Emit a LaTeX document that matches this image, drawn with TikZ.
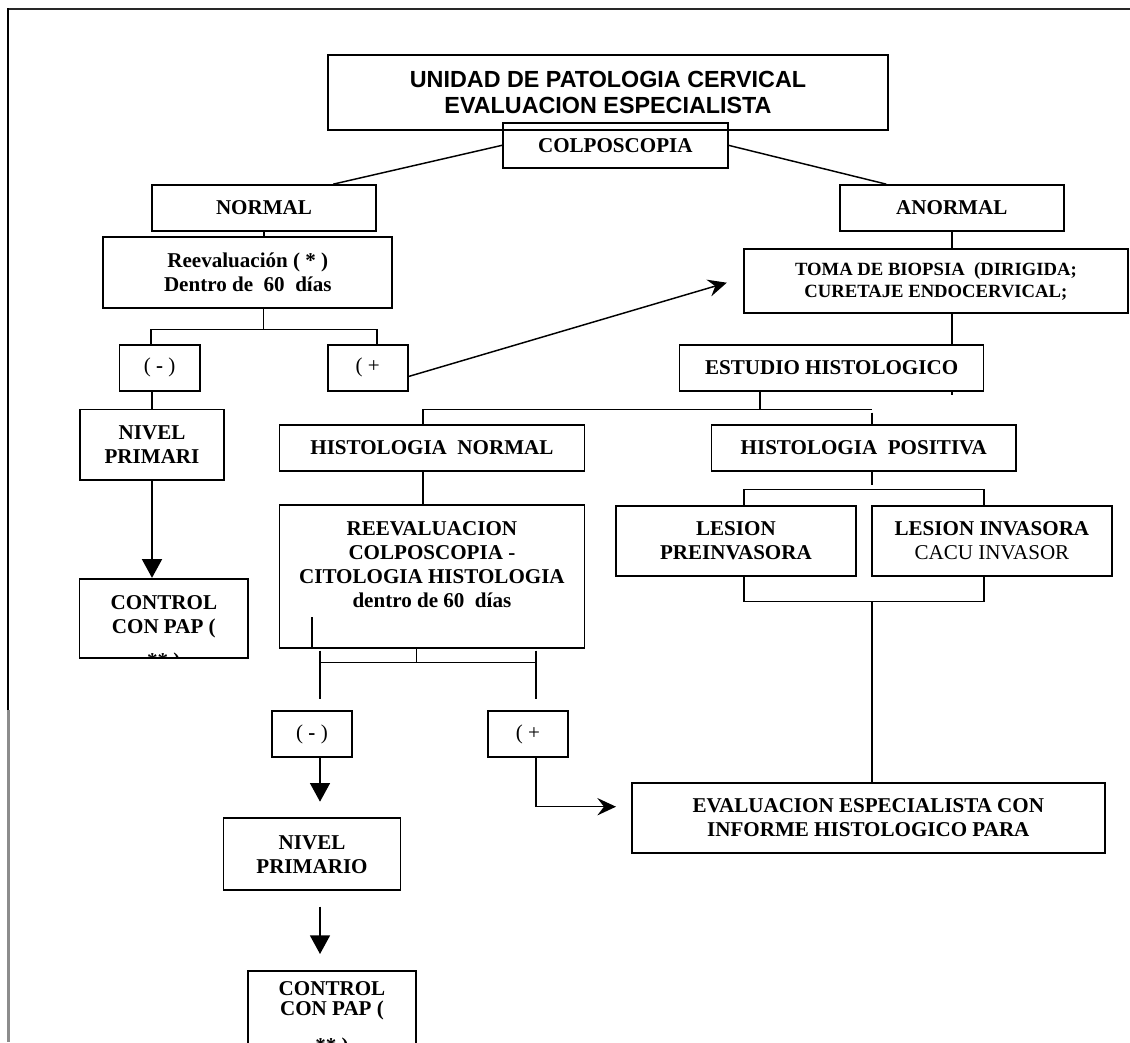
\documentclass[tikz,border=0pt]{standalone}
\usepackage{fontspec}
\setmainfont{Liberation Serif}
\newfontfamily\titlefont{Liberation Sans}
\usetikzlibrary{arrows.meta}

\tikzset{every picture/.style={line width=0.75pt}}
\tikzset{
  caja/.style={draw, line width=1.3pt, inner sep=0pt, align=center, font=\bfseries\fontsize{15.8}{18}\selectfont},
  linea/.style={line width=1.1pt},
  flecha/.style={line width=1.1pt, -{Stealth[length=14pt,width=13pt,inset=5pt]}},
  flechatri/.style={line width=1.1pt, -{Triangle[length=14pt,width=15pt]}}
}

\begin{document}
\begin{tikzpicture}[x=0.75pt,y=0.75pt,yscale=-1,xscale=1]
\useasboundingbox (0,0) rectangle (1130,1042);
\clip (0,0) rectangle (1130,1042);

%Shape: page frame
\draw [line width=2pt, color={rgb, 255:red, 40; green, 40; blue, 40 }] (7,9) -- (1130,9) ;
\draw [line width=1.6pt] (8,8) -- (8,712) ;
\draw [line width=1.6pt, color={rgb, 255:red, 140; green, 140; blue, 140 }] (8.5,710) -- (8.5,1042) ;

% Text Node
\node [caja, font=\titlefont\bfseries\fontsize{17.5}{19}\selectfont, minimum width=420pt, minimum height=56.25pt] (titulo) at (608,92.5) {UNIDAD DE PATOLOGIA CERVICAL\\EVALUACION ESPECIALISTA};
% Text Node
\node [caja, minimum width=168.5pt, minimum height=33.75pt] (colpo) at (615.3,145.3) {COLPOSCOPIA};
% Text Node
\node [caja, minimum width=168pt, minimum height=34.5pt] (normal) at (264,208) {NORMAL};
% Text Node
\node [caja, minimum width=168pt, minimum height=34.5pt] (anormal) at (951.8,208) {ANORMAL};
% Text Node
\node [caja, minimum width=216.75pt, minimum height=52.8pt] (reev) at (247.8,272.5) {Reevaluación ( * )\\Dentro de\ \ 60\ \ días};
% Text Node
\node [caja, font=\fontsize{15.8}{18}\selectfont, minimum width=60.5pt, minimum height=34.3pt] (menos1) at (159.7,367.8) {( \textbf{-} )};
% Text Node
\node [caja, font=\fontsize{15.8}{18}\selectfont, minimum width=60pt, minimum height=34.3pt] (mas1) at (367.7,367.8) {( +};
% Text Node
\node [caja, minimum width=108.5pt, minimum height=53pt] (nivel1) at (152,444.7) {NIVEL\\PRIMARI};
% Text Node
\node [caja, minimum width=126.3pt, minimum height=59.25pt,
  path picture={\node [anchor=north, inner sep=0pt, align=center, font=\bfseries\fontsize{15.8}{18}\selectfont] (control1txt) at (path picture bounding box.north) {\rule{0pt}{22.2pt}CONTROL\\CON PAP (\\[8pt]** )};}] (control1) at (163.8,618.2) {};
% Text Node
\node [caja, font=\bfseries\fontsize{14}{16.5}\selectfont, minimum width=288pt, minimum height=48pt] (toma) at (935.9,281.3) {TOMA DE BIOPSIA\ \ (DIRIGIDA;\\CURETAJE ENDOCERVICAL;};
% Text Node
\node [caja, minimum width=228pt, minimum height=34.3pt] (estudio) at (831.6,367.8) {ESTUDIO HISTOLOGICO};
% Text Node
\node [caja, minimum width=228.75pt, minimum height=34.3pt] (histnorm) at (431.9,447.8) {HISTOLOGIA\ \ NORMAL};
% Text Node
\node [caja, minimum width=228.4pt, minimum height=34.3pt] (histpos) at (863.8,447.8) {HISTOLOGIA\ \ POSITIVA};
% Text Node
\node [caja, minimum width=228.75pt, minimum height=107.25pt] (reev2) at (431.9,576.8) {REEVALUACION\\COLPOSCOPIA -\\CITOLOGIA HISTOLOGIA\\dentro de 60\ \ días\\ ~};
% Text Node
\node [caja, minimum width=180pt, minimum height=52.3pt] (lespre) at (735.9,540.8) {LESION\\PREINVASORA};
% Text Node
\node [caja, minimum width=180pt, minimum height=52.3pt] (lesinv) at (991.9,540.8) {LESION INVASORA\\{\mdseries CACU INVASOR}};
% Text Node
\node [caja, font=\fontsize{15.8}{18}\selectfont, minimum width=60pt, minimum height=35pt] (menos2) at (312,734) {( \textbf{-} )};
% Text Node
\node [caja, font=\fontsize{15.8}{18}\selectfont, minimum width=60pt, minimum height=35pt] (mas2) at (527.9,734) {( +};
% Text Node
\node [caja, minimum width=132.75pt, minimum height=53.8pt] (nivel2) at (312,854.2) {NIVEL\\PRIMARIO};
% Text Node
\node [caja, minimum width=126pt, minimum height=59.25pt,
  path picture={\node [anchor=north, inner sep=0pt, align=center, font=\bfseries\fontsize{15.8}{15.5}\selectfont] (control2txt) at (path picture bounding box.north) {\rule{0pt}{17.5pt}CONTROL\\CON PAP (\\[12pt]** )};}] (control2) at (332,1010.3) {};
% Text Node
\node [caja, minimum width=355pt, minimum height=53pt] (eval) at (868.3,818) {EVALUACION ESPECIALISTA CON\\INFORME HISTOLOGICO PARA};

% junctions
\coordinate (r1) at (263.7,329.3);
\coordinate (r2) at (759.8,409.3);
\coordinate (r2a) at (423,409.3);
\coordinate (r2b) at (872,409.3);
\coordinate (r3a) at (743.8,489.3);
\coordinate (r3b) at (984,489.3);
\coordinate (r4b) at (984,601.3);
\coordinate (r5) at (416.4,662.7);
\coordinate (r5a) at (320,662.7);
\coordinate (r5b) at (535.8,662.7);
\coordinate (p1) at (726.8,282.7);
\coordinate (p2) at (320,801.7);
\coordinate (p3) at (320,906.7);
\coordinate (p4) at (320,954);
\coordinate (p5) at (616,806.7);

%Straight Lines
\draw [linea] (colpo.west) -- (normal.19.2) ;
\draw [linea] (colpo.east) -- (anormal.160.5) ;
\draw [linea] (normal.south) -- (normal.south |- reev.north) ;
\draw [linea] (reev.south -| r1) -- (r1) ;
\draw [linea] (menos1.north -| normal.west) |- (r1) ;
\draw [linea] (mas1.north -| normal.east) |- (r1) ;
\draw [linea] (nivel1.north |- menos1.south) -- (nivel1.north) ;
\draw [flechatri] (nivel1.south) -- (nivel1.south |- control1.north) ;
\draw [flecha] (mas1.-12.5) -- (p1) ;
%Straight Lines
\draw [linea] (anormal.south) -- (anormal.south |- toma.north) ;
\draw [linea] (anormal.south |- toma.south) -- (anormal.south |- estudio.north) ;
\draw [linea] (anormal.south |- estudio.south) -- ++(0,3) ;
\draw [linea] (estudio.south -| r2) -- (r2) ;
\draw [linea] (r2a |- histnorm.north) -- (r2a) -- (r2b) ;
\draw [linea] (r2b) ++(0,3.4) -- (r2b |- histpos.north) ;
\draw [linea] (histpos.south -| r2b) -- ++(0,13.6) ;
\draw [linea] (r3a |- lespre.north) |- (r3b) -- (r3b |- lesinv.north) ;
\draw [linea] (r3a |- lespre.south) |- (r4b) -- (r4b |- lesinv.south) ;
\draw [linea] (eval.north -| r2b) -- (r2b |- r4b) ;
%Straight Lines
\draw [linea] (r2a |- histnorm.south) -- (r2a |- reev2.north) ;
\draw [linea] (menos2.north |- reev2.south) -- ++(0,-32.3) ;
\draw [linea] (reev2.south -| r5) -- (r5) ;
\draw [linea] (r5a) -- (r5b) ;
\draw [linea] (r5a) ++(0,-12) -- ++(0,48.6) ;
\draw [linea] (r5b) ++(0,-12) -- ++(0,48.6) ;
\draw [flechatri] (r5a |- menos2.south) -- (p2) ;
\draw [flechatri] (p3) -- (p4) ;
\draw [flecha] (r5b |- mas2.south) |- (p5) ;

\end{tikzpicture}
\end{document}
